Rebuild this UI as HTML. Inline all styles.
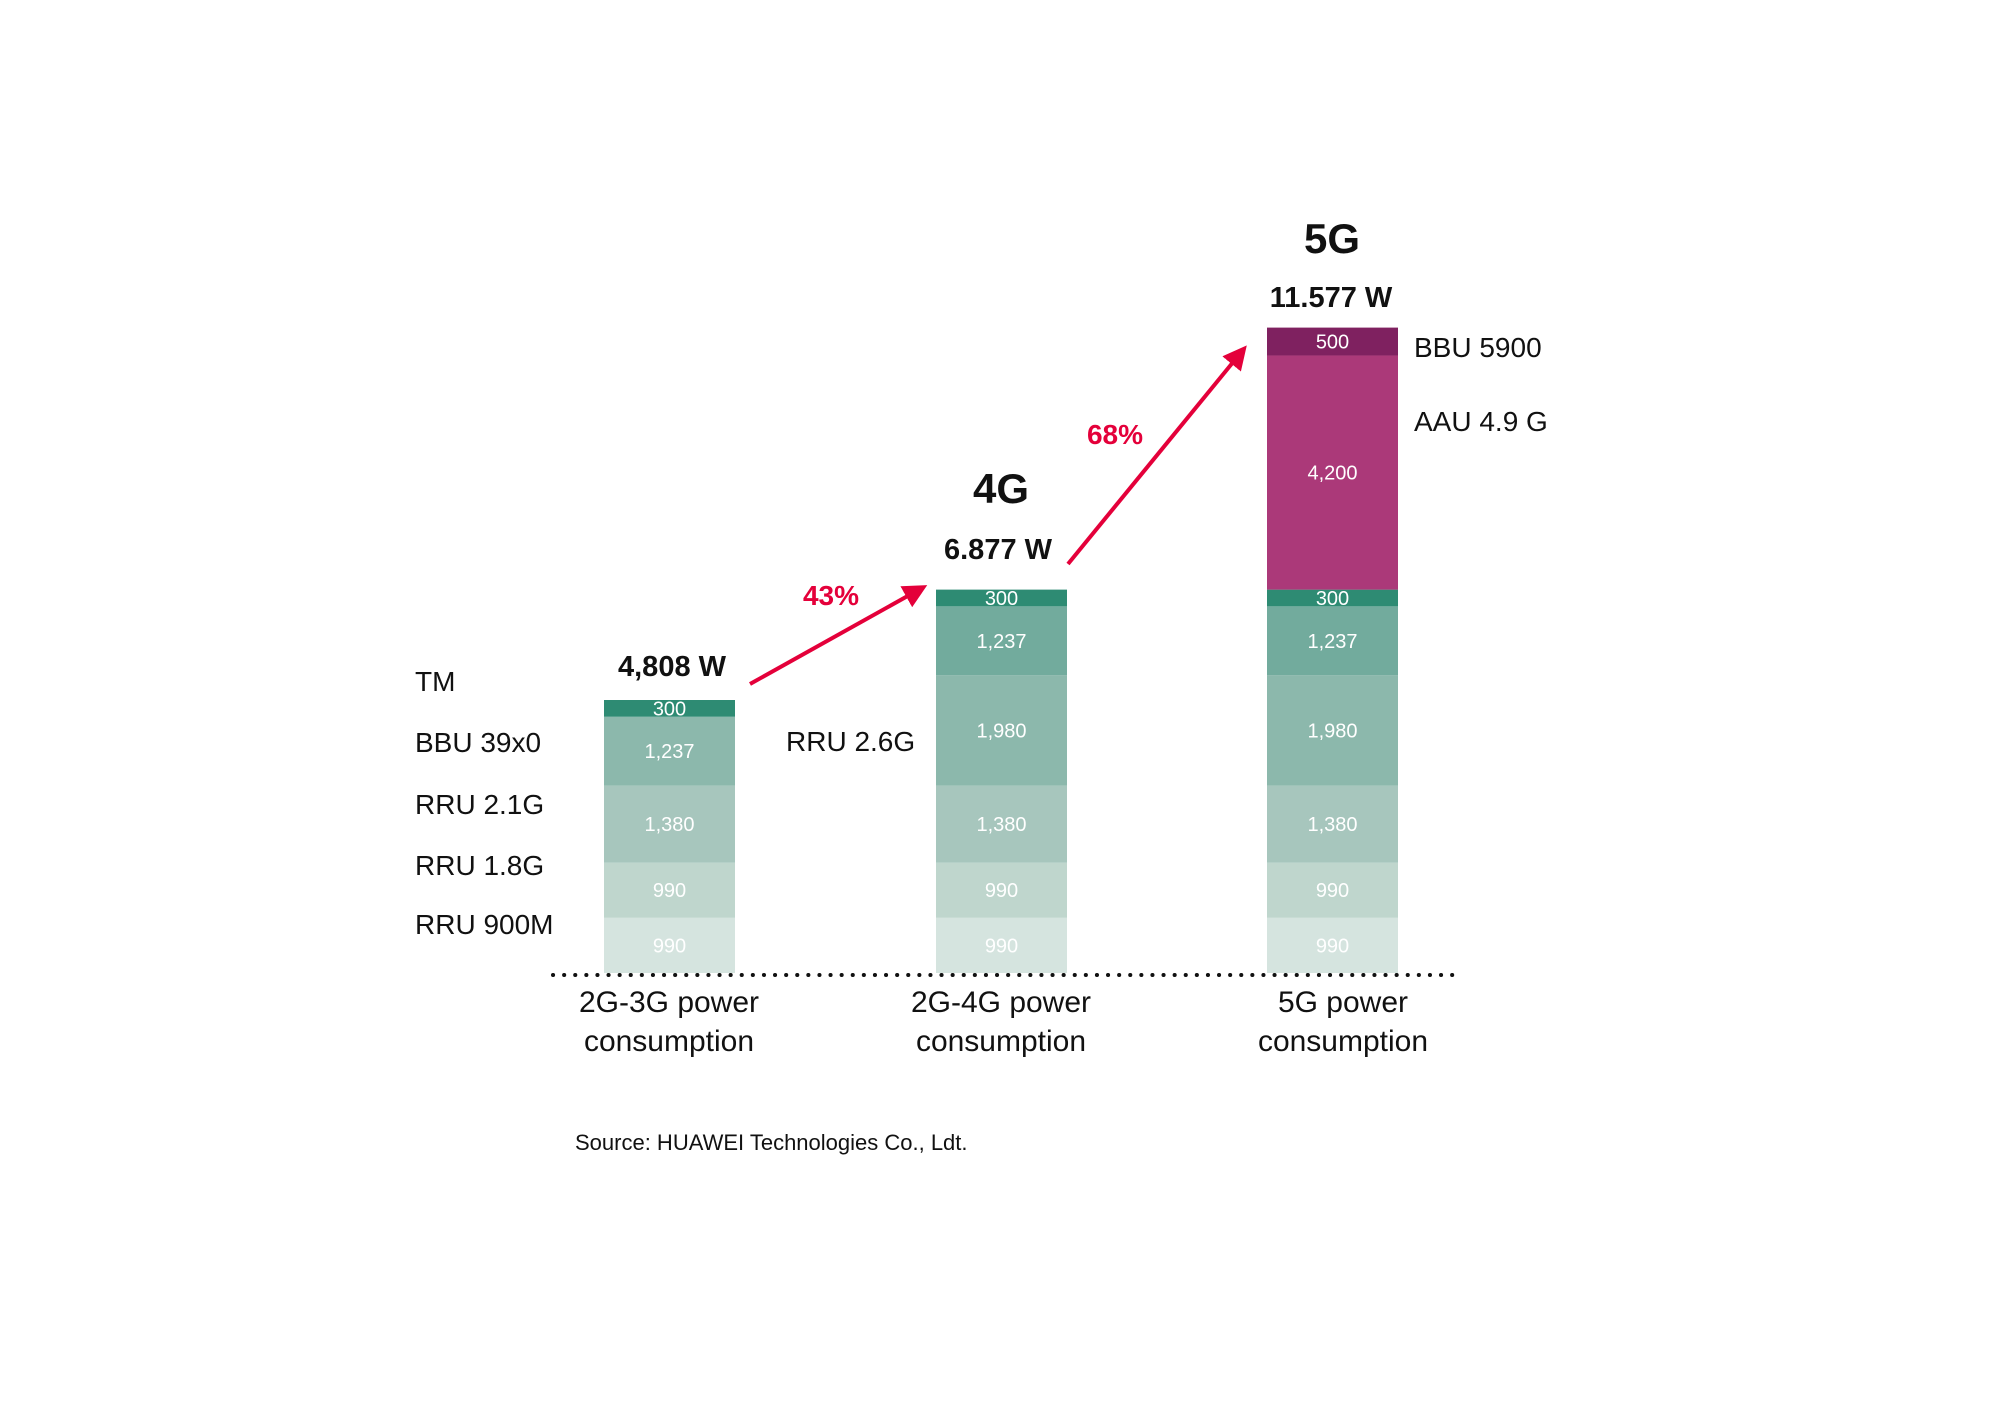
<!DOCTYPE html>
<html><head><meta charset="utf-8"><style>
html,body{margin:0;padding:0;background:#fff;}
svg{display:block;font-family:"Liberation Sans",sans-serif;}
</style></head><body>
<svg id="chart" width="2009" height="1418" viewBox="0 0 2009 1418">
<defs><marker id="ah" markerWidth="6" markerHeight="6" refX="4.5" refY="3" orient="auto" markerUnits="strokeWidth"><path d="M0,0 L6,3 L0,6 Z" fill="#e4003a"/></marker></defs>
<g id="bars"></g>
<line x1="553" y1="975" x2="1462" y2="975" stroke="#111" stroke-width="4" stroke-dasharray="0.1 11" stroke-linecap="round"/>
<g font-size="28" fill="#111">
<text x="415" y="691">TM</text>
<text x="415" y="752">BBU 39x0</text>
<text x="415" y="814">RRU 2.1G</text>
<text x="415" y="875">RRU 1.8G</text>
<text x="415" y="934">RRU 900M</text>
<text x="786" y="751">RRU 2.6G</text>
<text x="1414" y="357">BBU 5900</text>
<text x="1414" y="431">AAU 4.9 G</text>
</g>
<g font-weight="bold" fill="#111" text-anchor="middle">
<text x="672" y="676" font-size="29">4,808 W</text>
<text x="1001" y="503" font-size="42">4G</text>
<text x="998" y="559" font-size="29">6.877 W</text>
<text x="1332" y="253" font-size="42">5G</text>
<text x="1331" y="307" font-size="29">11.577 W</text>
</g>
<g stroke="#e4003a" stroke-width="4" fill="none">
<line x1="750" y1="684" x2="922" y2="588" marker-end="url(#ah)"/>
<line x1="1068" y1="564" x2="1243" y2="350" marker-end="url(#ah)"/>
</g>
<g fill="#e4003a" font-weight="bold" font-size="28" text-anchor="middle">
<text x="831" y="605">43%</text>
<text x="1115" y="444">68%</text>
</g>
<g font-size="30" fill="#111" text-anchor="middle">
<text x="669" y="1012">2G-3G power</text>
<text x="669" y="1051">consumption</text>
<text x="1001" y="1012">2G-4G power</text>
<text x="1001" y="1051">consumption</text>
<text x="1343" y="1012">5G power</text>
<text x="1343" y="1051">consumption</text>
</g>
<text x="575" y="1150" font-size="22" fill="#111">Source: HUAWEI Technologies Co., Ldt.</text>
</svg>
<script>
const categories = ["2G-3G", "2G-4G", "5G"];
const bar1Values = [990, 990, 1380, 1237, 300];
const bar2Values = [990, 990, 1380, 1980, 1237, 300];
const bar3Values = [990, 990, 1380, 1980, 1237, 300, 4200, 500];
const bar1Colors = ["#d5e4df","#bfd6cd","#a7c6bd","#8cb8ac","#2e8b73"];
const bar2Colors = ["#d5e4df","#bfd6cd","#a7c6bd","#8cb8ac","#72ab9d","#2e8b73"];
const bar3Colors = ["#d5e4df","#bfd6cd","#a7c6bd","#8cb8ac","#72ab9d","#2e8b73","#ab3979","#7f2160"];
const baseY = 973, pxPerW = 273/4897, barW = 131;
const barX = [604, 936, 1267];
function y(v){ return baseY - v*pxPerW; }
const NS = "http://www.w3.org/2000/svg";
const g = document.getElementById("bars");
const all = [bar1Values, bar2Values, bar3Values];
const cols = [bar1Colors, bar2Colors, bar3Colors];
all.forEach((vals, bi) => {
  let cum = 0;
  vals.forEach((v, si) => {
    const r = document.createElementNS(NS, "rect");
    r.setAttribute("x", barX[bi]);
    r.setAttribute("y", y(cum+v));
    r.setAttribute("width", barW);
    r.setAttribute("height", y(cum)-y(cum+v));
    r.setAttribute("fill", cols[bi][si]);
    
    
    g.appendChild(r);
    const t = document.createElementNS(NS, "text");
    t.setAttribute("x", barX[bi]+barW/2);
    t.setAttribute("y", (y(cum)+y(cum+v))/2 + 7);
    t.setAttribute("text-anchor", "middle");
    t.setAttribute("font-size", "20");
    t.setAttribute("fill", "#fff");
    t.textContent = v.toLocaleString("en-US");
    
    
    g.appendChild(t);
    cum += v;
  });
});
</script>
</body></html>
